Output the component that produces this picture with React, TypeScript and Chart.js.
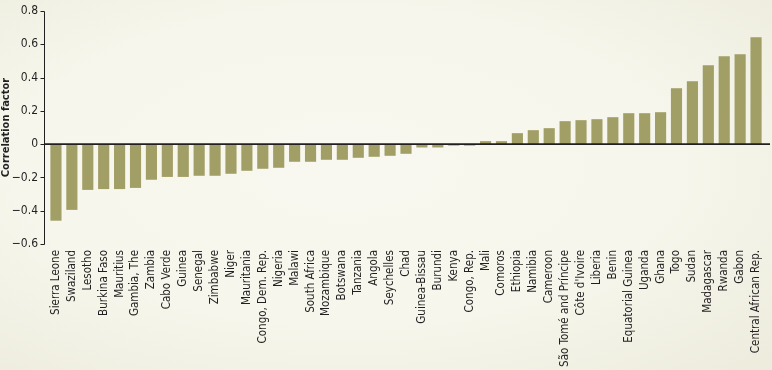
import React, { useEffect, useRef } from "react";
import { Chart, registerables } from "chart.js";

Chart.register(...registerables);

const countries = [
  "Sierra Leone", "Swaziland", "Lesotho", "Burkina Faso", "Mauritius", "Gambia, The",
  "Zambia", "Cabo Verde", "Guinea", "Senegal", "Zimbabwe", "Niger", "Mauritania",
  "Congo, Dem. Rep.", "Nigeria", "Malawi", "South Africa", "Mozambique", "Botswana",
  "Tanzania", "Angola", "Seychelles", "Chad", "Guinea-Bissau", "Burundi", "Kenya",
  "Congo, Rep.", "Mali", "Comoros", "Ethiopia", "Namibia", "Cameroon",
  "São Tomé and Príncipe", "Côte d'Ivoire", "Liberia", "Benin", "Equatorial Guinea",
  "Uganda", "Ghana", "Togo", "Sudan", "Madagascar", "Rwanda", "Gabon", "Central African Rep.",
];

const correlation = [
  -0.46, -0.395, -0.275, -0.27, -0.27, -0.263,
  -0.214, -0.197, -0.197, -0.19, -0.19, -0.178, -0.16,
  -0.148, -0.142, -0.106, -0.106, -0.094, -0.094,
  -0.082, -0.076, -0.07, -0.058, -0.02, -0.02, -0.009,
  -0.009, 0.018, 0.018, 0.066, 0.084, 0.096,
  0.138, 0.144, 0.15, 0.162, 0.186,
  0.186, 0.192, 0.336, 0.378, 0.474, 0.528, 0.54, 0.642,
];

const yMin = -0.6;
const yMax = 0.8;
const yStep = 0.2;
const yTitle = "Correlation factor";

const FONT = "'Liberation Sans Narrow', 'DejaVu Sans Condensed', sans-serif";
const INK = "#231f20";

const axisPlugin = {
  id: "customAxis",
  afterDatasetsDraw(chart: any) {
    const { ctx } = chart;
    const y = chart.scales.y;
    const axisX = 44.5;
    ctx.save();
    ctx.strokeStyle = INK;
    ctx.lineWidth = 1;
    ctx.beginPath();
    ctx.moveTo(axisX, Math.round(y.getPixelForValue(yMax)) + 0.5);
    ctx.lineTo(axisX, Math.round(y.getPixelForValue(yMin)) + 0.5);
    for (let v = yMin; v <= yMax + 1e-9; v += yStep) {
      const py = Math.round(y.getPixelForValue(v)) + 0.5;
      ctx.moveTo(axisX - 4, py);
      ctx.lineTo(axisX, py);
    }
    ctx.stroke();
    const zy = y.getPixelForValue(0);
    ctx.lineWidth = 1.6;
    ctx.beginPath();
    ctx.moveTo(axisX, zy);
    ctx.lineTo(770, zy);
    ctx.stroke();
    ctx.restore();
  },
};

export default function App() {
  const ref = useRef<HTMLCanvasElement | null>(null);
  useEffect(() => {
    if (!ref.current) return;
    const chart = new Chart(ref.current, {
      type: "bar",
      data: {
        labels: countries,
        datasets: [
          {
            data: correlation,
            backgroundColor: "#a19e66",
            borderWidth: 0,
            barPercentage: 0.7,
            categoryPercentage: 1,
          },
        ],
      },
      options: {
        animation: false,
        responsive: false,
        maintainAspectRatio: false,
        layout: { padding: { top: 11, right: 8, bottom: 0, left: 0 } },
        plugins: { legend: { display: false }, tooltip: { enabled: false } },
        scales: {
          x: {
            type: "category",
            offset: true,
            grid: { display: false, drawTicks: false },
            border: { display: false },
            ticks: {
              autoSkip: false,
              maxRotation: 90,
              minRotation: 90,
              padding: 6,
              color: INK,
              font: { family: FONT, size: 11.5 },
            },
            afterFit(scale: any) {
              scale.height = 126;
              scale.paddingLeft = 0;
              scale.paddingRight = 0;
            },
          },
          y: {
            min: yMin,
            max: yMax,
            grid: { display: false, drawTicks: false },
            border: { display: false },
            ticks: {
              stepSize: yStep,
              padding: 10,
              color: INK,
              font: { family: FONT, size: 12 },
              callback: (v: any) => {
                const n = Number(v);
                if (Math.abs(n) < 1e-9) return "0";
                const s = Math.abs(n).toFixed(1);
                return n < 0 ? "\u2212" + s : s;
              },
            },
            title: {
              display: true,
              text: yTitle,
              color: INK,
              padding: { top: 0, bottom: 0 },
              font: { family: FONT, size: 11, weight: "bold" },
            },
            afterFit(scale: any) {
              scale.width = 48;
              scale.paddingTop = 0;
              scale.paddingBottom = 0;
            },
          },
        },
      },
      plugins: [axisPlugin],
    } as any);
    return () => chart.destroy();
  }, []);

  return (
    <div
      style={{
        position: "fixed",
        left: 0,
        top: 0,
        width: 772,
        height: 370,
        background:
          "radial-gradient(ellipse at 45% 45%, #f8f8f0 0%, #f6f6ec 55%, #ecebdc 100%)",
      }}
    >
      <canvas ref={ref} width={772} height={370} style={{ display: "block" }} />
    </div>
  );
}
